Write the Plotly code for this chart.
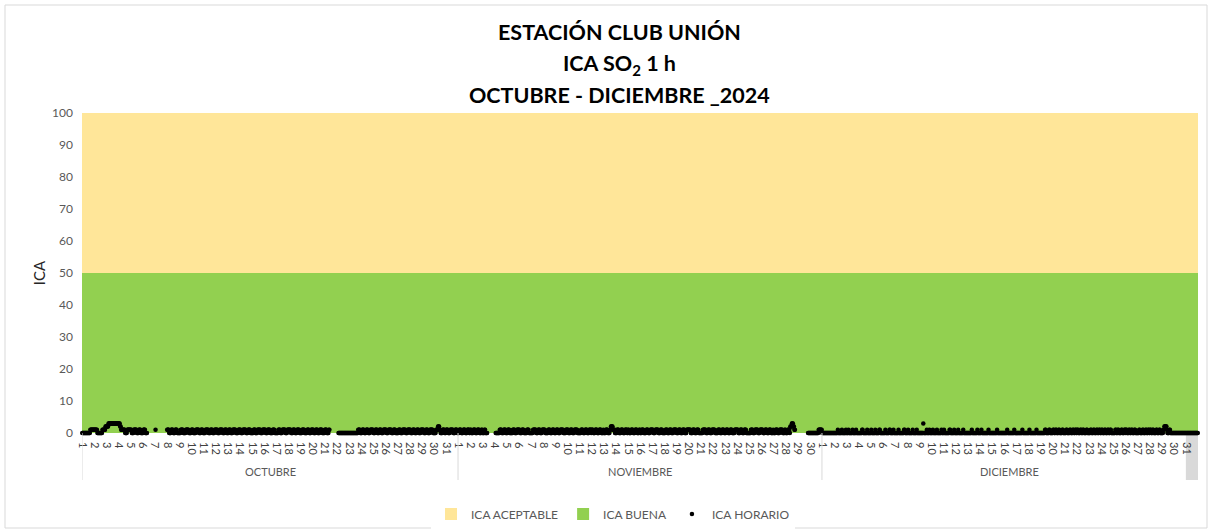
import plotly.graph_objects as go

# Hourly ICA SO2 values per day: one 24-character string per day,
# each character is the hourly index (0-9) and "." marks a missing hour.
MESES = ["OCTUBRE", "NOVIEMBRE", "DICIEMBRE"]

OCTUBRE = [
    "000000000000000011111111",
    "111111000000000011111122",
    "222233333333333333333333",
    "333221111111100001111111",
    "110000111111000011110000",
    "011110000...............",
    ".1......................",
    "111100001111000011110000",
    "000111110000011111100000",
    "111100000111111000011110",
    "000011111100001111000011",
    "111100001111110000111100",
    "001111000011111100000111",
    "110000111111000011111000",
    "000111100001111110000111",
    "111000011111000001111000",
    "000011110000111111000011",
    "111110000111100001111100",
    "000111110000011110000111",
    "110000111100001111100000",
    "1111000011..............",
    "...000000000000000000000",
    "000000000000000000111100",
    "001111000011110000111111",
    "000011110000111100001111",
    "110000111111000011110000",
    "001111000011111100001111",
    "110000111100001111000011",
    "111100001111000011111100",
    "000011112221100001111000",
    "111100001111110000111100",
]

NOVIEMBRE = [
    "001111000011110000111100",
    "110000111100001111000011",
    "0000110000..............",
    "..0000000011110000111100",
    "001111000000111100001111",
    "110000111100000011110000",
    "000011111100001111000011",
    "111100000011110000111100",
    "001111000011111100000111",
    "110000111100001111110000",
    "000111100001111000011110",
    "111000011110000111100001",
    "000011110000112222111100",
    "001111000011110000111100",
    "110000111100001111000011",
    "000111100000111100001111",
    "110000111111000011110000",
    "001111000011110000111111",
    "000011110000111100001111",
    "111100001111000011110000",
    "000011111100001111000011",
    "111100000011110000111100",
    "001111000011110000011111",
    "110000111100001111000000",
    "000111100001111110000111",
    "111000011110000111100001",
    "000011110000111111000011",
    "0000111102223332211.....",
    "....................0000",
    "000000000000000001111111",
]

DICIEMBRE = [
    "000000000000000000000000",
    "000000010000000100000001",
    "000010000000100000010000",
    "000000011000000001000000",
    "010000000100000001100000",
    "000001000000011000000100",
    "000000010000000000110000",
    "001000000001000000010000",
    "000000003000000100001000",
    "000100000001000000001000",
    "010000000000110000000100",
    "000001000000000100000000",
    "000000001000000000010000",
    "000100000000000001000000",
    "000000000010000000000000",
    "000000100000000000001000",
    "000000000000100000000000",
    "001000000000000010000000",
    "000000000110000001100000",
    "011000110000110000011000",
    "000110000011000011000110",
    "011000011000110000011000",
    "000110000110000110001100",
    "011000011000011000110000",
    "000011000110000011000011",
    "011000011000110000110000",
    "000110000011000011000110",
    "011000110000011000011000",
    "000112222210000110000000",
    "000000000000000000000000",
    "000000000000000000000000",
]

# Category bands of the index (lower, upper limit)
BANDA_NOMBRES = ["ICA ACEPTABLE", "ICA BUENA"]
BANDA_INFERIOR = [50, 0]
BANDA_SUPERIOR = [100, 50]
BANDA_COLORES = ["#FFE699", "#92D050"]

Y_TICKS = [0, 10, 20, 30, 40, 50, 60, 70, 80, 90, 100]

FONT = "Lato"
W, H = 1208, 529
ML, MR, MT, MB = 82, 10, 113, 96
PLOT_H = H - MT - MB


def py(px):
    """Pixel row of the page -> paper y coordinate."""
    return (H - MB - px) / PLOT_H


def px_x(px):
    return (px - ML) / (W - ML - MR)


meses_dias = [OCTUBRE, NOVIEMBRE, DICIEMBRE]

x_idx, y_val = [], []
tickvals, ticktext = [], []
mes_inicio = []
i = 0
for dias in meses_dias:
    mes_inicio.append(i)
    for d, horas in enumerate(dias, start=1):
        tickvals.append(i)
        ticktext.append(str(d))
        for ch in horas:
            x_idx.append(i)
            y_val.append(None if ch == "." else int(ch))
            i += 1
N = i
mes_inicio.append(N)

fig = go.Figure()

for nombre, lo, hi, col, rank in zip(BANDA_NOMBRES, BANDA_INFERIOR, BANDA_SUPERIOR,
                                     BANDA_COLORES, [1, 2]):
    fig.add_trace(go.Bar(
        x=[(N - 1) / 2], y=[hi - lo], base=[lo], width=[N],
        name=nombre, marker=dict(color=col, line=dict(width=0)),
        hoverinfo="skip", legendrank=rank,
    ))

fig.add_trace(go.Scatter(
    x=x_idx, y=y_val, mode="markers", name="ICA HORARIO",
    marker=dict(color="black", size=4.5, line=dict(width=0)),
    cliponaxis=False, legendrank=3,
))

shapes = []
sep_bottom = py(480)
for s in mes_inicio[:-1]:
    shapes.append(dict(type="line", xref="x", yref="paper",
                       x0=s - 0.5, x1=s - 0.5, y0=0, y1=sep_bottom,
                       line=dict(color="#D9D9D9", width=1)))
# highlighted last day cell
shapes.append(dict(type="rect", xref="x", yref="paper",
                   x0=tickvals[-1] - 0.5, x1=N - 0.5, y0=0, y1=sep_bottom,
                   fillcolor="#D9D9D9", line=dict(width=0), layer="below"))
# chart border
shapes.append(dict(type="rect", xref="paper", yref="paper",
                   x0=px_x(5), x1=px_x(1207), y0=py(528), y1=py(5),
                   line=dict(color="#D9D9D9", width=1), fillcolor="rgba(0,0,0,0)"))

annotations = []
for k, nombre in enumerate(MESES):
    centro = (mes_inicio[k] + mes_inicio[k + 1] - 1) / 2
    annotations.append(dict(x=centro, y=py(471), xref="x", yref="paper",
                            xanchor="center", yanchor="middle",
                            text=nombre, showarrow=False,
                            font=dict(family=FONT, size=11, color="#595959")))

titulos = ["ESTACIÓN CLUB UNIÓN", "ICA SO<sub>2</sub> 1 h", "OCTUBRE - DICIEMBRE _2024"]
for t, yy in zip(titulos, [32, 64, 95]):
    annotations.append(dict(x=px_x(619), xref="paper", y=py(yy), yref="paper",
                            xanchor="center", yanchor="middle",
                            text=t, showarrow=False,
                            font=dict(family=FONT, size=21.5, color="black", weight="bold")))

fig.update_layout(
    width=W, height=H,
    margin=dict(l=ML, r=MR, t=MT, b=MB, autoexpand=False),
    paper_bgcolor="white", plot_bgcolor="white",
    barmode="overlay", bargap=0,
    font=dict(family=FONT, color="#595959"),
    showlegend=True,
    legend=dict(orientation="h", x=px_x(613), xanchor="center", y=py(514), yanchor="middle",
                font=dict(family=FONT, size=12, color="#595959"),
                traceorder="normal", itemwidth=30),
    shapes=shapes, annotations=annotations,
    xaxis=dict(range=[-0.5, N - 0.5], tickmode="array", tickvals=tickvals,
               ticktext=ticktext, tickangle=90, showgrid=False, zeroline=False,
               showline=False, ticks="", ticklabelstandoff=8,
               tickfont=dict(family=FONT, size=11, color="#404040")),
    yaxis=dict(range=[0, 100], tickmode="array", tickvals=Y_TICKS,
               showgrid=False, zeroline=False, showline=False, ticks="",
               ticklabelstandoff=8,
               tickfont=dict(family=FONT, size=12, color="#595959"),
               title=dict(text="ICA", standoff=2,
                          font=dict(family=FONT, size=15, color="#262626"))),
)

fig.write_html("out.html")
